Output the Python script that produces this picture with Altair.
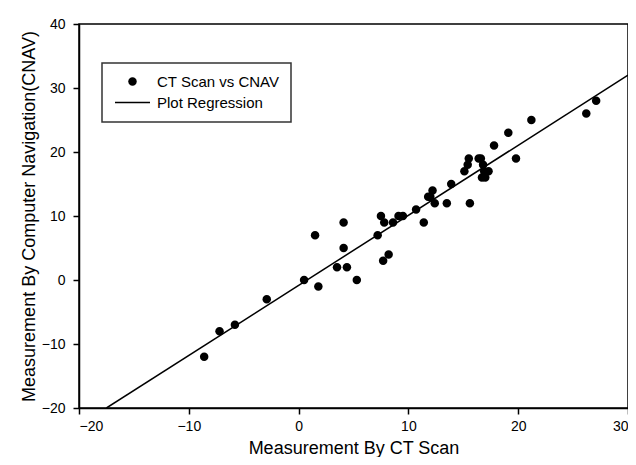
import altair as alt
import pandas as pd

# Values
ct_scan = [-8.6, -7.2, -5.8, -2.9, 0.5, 1.8, 1.5, 4.1, 4.1, 3.5, 4.4, 5.3, 7.2, 7.5,
           7.8, 7.7, 8.2, 8.6, 9.1, 9.5, 10.7, 11.4, 11.8, 12.2, 12.4, 12.0, 13.5, 13.9,
           15.6, 15.1, 15.5, 15.4, 16.4, 16.6, 16.8, 16.9, 16.7, 17.0, 17.3, 17.8, 19.1,
           19.8, 21.2, 26.2, 27.1]
cnav = [-12, -8, -7, -3, 0, -1, 7, 9, 5, 2, 2, 0, 7, 10,
        9, 3, 4, 9, 10, 10, 11, 9, 13, 14, 12, 13, 12, 15,
        12, 17, 19, 18, 19, 19, 18, 17, 16, 16, 17, 21, 23,
        19, 25, 26, 28]

reg_x = [-17.5, 30.0]
reg_y = [-20.0, 32.0]

series_names = ["CT Scan vs CNAV", "Plot Regression"]
x_ticks = [-20, -10, 0, 10, 20, 30]
y_ticks = [-20, -10, 0, 10, 20, 30, 40]

pts = pd.DataFrame({"ct": ct_scan, "cnav": cnav, "series": series_names[0]})
reg = pd.DataFrame({"ct": reg_x, "cnav": reg_y})

circle_path = "M0.85,0A0.85,0.85,0,1,1,-0.85,0A0.85,0.85,0,1,1,0.85,0Z"
line_path = "M-3.5,-0.13L3.5,-0.13L3.5,0.13L-3.5,0.13Z"

FONT = "Liberation Sans"

x_enc = alt.X("ct:Q", scale=alt.Scale(domain=[-20, 30], nice=False, zero=False),
              axis=alt.Axis(values=x_ticks, title="Measurement By CT Scan", labelPadding=5,
                            titlePadding=6))
y_enc = alt.Y("cnav:Q", scale=alt.Scale(domain=[-20, 40], nice=False, zero=False),
              axis=alt.Axis(values=y_ticks, title="Measurement By Computer Navigation(CNAV)",
                            labelPadding=8, titlePadding=3))

points = alt.Chart(pts).mark_point(filled=True, size=100, color="black", opacity=1,
                                   strokeWidth=0).encode(
    x=x_enc,
    y=y_enc,
    shape=alt.Shape("series:N",
                    scale=alt.Scale(domain=series_names, range=[circle_path, line_path]),
                    legend=alt.Legend(title=None, orient="none", legendX=23, legendY=39,
                                      strokeColor="#333333", padding=11,
                                      fillColor="white",
                                      symbolSize=100, symbolOffset=12, labelOffset=17,
                                      rowPadding=5, labelFont=FONT, labelFontSize=15,
                                      labelColor="black",
                                      symbolFillColor="black")),
)

line = alt.Chart(reg).mark_line(color="black", strokeWidth=1.5, clip=True).encode(
    x=alt.X("ct:Q"), y=alt.Y("cnav:Q"))

chart = alt.layer(line, points).properties(
    width=549, height=384,
    autosize=alt.AutoSizeParams(type="none"),
    padding={"left": 71, "top": 16, "right": 0, "bottom": 49},
    background="white",
).configure_view(stroke="black", strokeWidth=1.5).configure_axis(
    grid=False, domainColor="black", domainWidth=1.5, tickColor="black", tickWidth=1.5,
    tickSize=6, labelFont=FONT, labelFontSize=14, labelColor="black",
    titleFont=FONT, titleFontSize=18, titleFontWeight="normal", titleColor="black",
).configure_legend(strokeWidth=1.5)

chart.save("out.html", embed_options={"renderer": "svg", "actions": False})
